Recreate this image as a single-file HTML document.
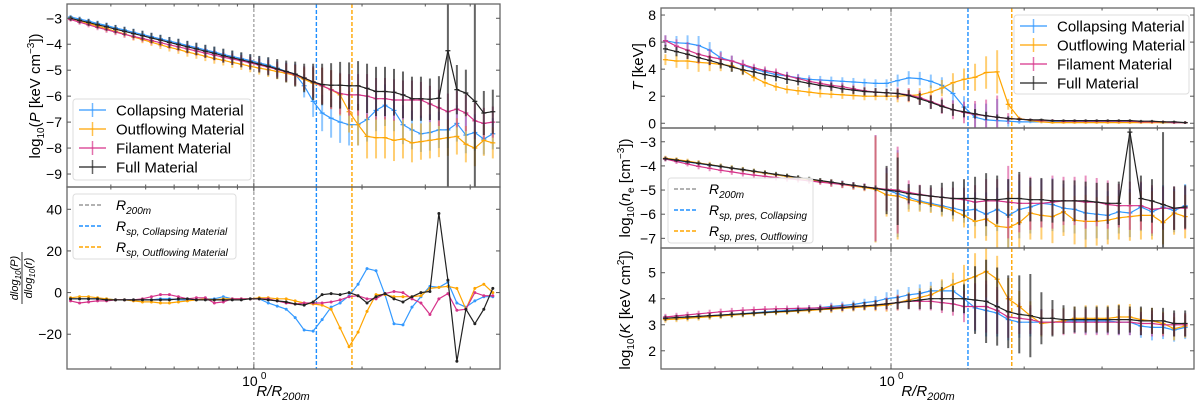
<!DOCTYPE html>
<html><head><meta charset="utf-8"><style>
html,body{margin:0;padding:0;background:#fff}
svg{display:block;font-family:"Liberation Sans","DejaVu Sans",sans-serif}
</style></head><body>
<svg id="fig" width="1200" height="402" viewBox="0 0 1200 402" xmlns="http://www.w3.org/2000/svg">
<rect width="1200" height="402" fill="#fff"/>
<g id="layer"></g>
<text transform="translate(40,96) rotate(-90)" text-anchor="middle" font-size="15">log<tspan font-size="10" dy="4">10</tspan><tspan dy="-4">(</tspan><tspan font-style="italic">P</tspan> [keV cm<tspan font-size="10" dy="-6">−3</tspan><tspan dy="6">])</tspan></text>
<g transform="translate(22,278) rotate(-90)" font-size="11" font-style="italic" text-anchor="middle">
<text y="-4">dlog<tspan font-size="8" dy="3">10</tspan><tspan dy="-3">(P)</tspan></text>
<line x1="-26" x2="26" y1="0" y2="0" stroke="#000" stroke-width="0.8"/>
<text y="10">dlog<tspan font-size="8" dy="3">10</tspan><tspan dy="-3">(r)</tspan></text>
</g>
<text x="283" y="396" text-anchor="middle" font-size="15" font-style="italic">R/R<tspan font-size="11" dy="4">200m</tspan></text>
<text x="928" y="396" text-anchor="middle" font-size="15" font-style="italic">R/R<tspan font-size="11" dy="4">200m</tspan></text>
<text transform="translate(643,67) rotate(-90)" text-anchor="middle" font-size="15"><tspan font-style="italic">T</tspan> [keV]</text>
<text transform="translate(630,188) rotate(-90)" text-anchor="middle" font-size="15">log<tspan font-size="10" dy="4">10</tspan><tspan dy="-4">(</tspan><tspan font-style="italic">n</tspan><tspan font-size="10" dy="4">e</tspan><tspan dy="-4"> [cm</tspan><tspan font-size="10" dy="-6">−3</tspan><tspan dy="6">])</tspan></text>
<text transform="translate(630,310) rotate(-90)" text-anchor="middle" font-size="15">log<tspan font-size="10" dy="4">10</tspan><tspan dy="-4">(</tspan><tspan font-style="italic">K</tspan> [keV cm<tspan font-size="10" dy="-6">2</tspan><tspan dy="6">])</tspan></text>
</svg>
<script>
const logR=[-0.51,-0.485,-0.46,-0.435,-0.41,-0.385,-0.36,-0.335,-0.31,-0.285,-0.26,-0.235,-0.21,-0.185,-0.16,-0.135,-0.11,-0.085,-0.06,-0.035,-0.01,0.015,0.04,0.065,0.09,0.115,0.14,0.165,0.19,0.215,0.24,0.265,0.29,0.315,0.34,0.365,0.39,0.415,0.44,0.465,0.49,0.515,0.54,0.565,0.59,0.615,0.64,0.665];
const vlineR200=0, vlineColl=0.174, vlineOut=0.273;
const seriesNames=["Collapsing Material","Outflowing Material","Filament Material","Full Material"];
const pColl=[-2.95,-3.03,-3.11,-3.2,-3.28,-3.37,-3.45,-3.54,-3.62,-3.71,-3.79,-3.88,-3.96,-4.05,-4.13,-4.22,-4.3,-4.39,-4.47,-4.55,-4.63,-4.72,-4.8,-4.92,-5.05,-5.15,-5.6,-6.2,-6.65,-6.85,-7.0,-7.1,-7.1,-6.9,-6.55,-6.35,-6.55,-7.1,-7.3,-7.45,-7.4,-7.3,-7.3,-7.05,-7.5,-7.4,-7.65,-7.45];
const pOut=[-3.0,-3.1,-3.2,-3.3,-3.4,-3.5,-3.6,-3.72,-3.82,-3.92,-4.02,-4.12,-4.2,-4.3,-4.38,-4.46,-4.55,-4.62,-4.7,-4.77,-4.85,-4.92,-4.98,-5.05,-5.12,-5.2,-5.35,-5.5,-5.6,-5.75,-5.95,-6.6,-7.1,-7.55,-7.6,-7.6,-7.7,-7.65,-7.8,-7.75,-7.7,-7.65,-7.6,-7.55,-7.85,-8.0,-7.7,-7.8];
const pFil=[-3.05,-3.15,-3.25,-3.35,-3.44,-3.53,-3.62,-3.7,-3.78,-3.86,-3.94,-4.02,-4.1,-4.18,-4.26,-4.34,-4.42,-4.5,-4.57,-4.64,-4.72,-4.8,-4.88,-4.97,-5.07,-5.18,-5.3,-5.45,-5.6,-5.75,-5.9,-5.95,-5.95,-6.0,-6.1,-6.1,-6.15,-6.15,-6.15,-6.15,-6.3,-6.45,-6.6,-6.5,-6.65,-6.95,-7.05,-7.0];
const pFull=[-3.0,-3.08,-3.16,-3.25,-3.33,-3.42,-3.5,-3.59,-3.67,-3.76,-3.84,-3.93,-4.01,-4.1,-4.18,-4.27,-4.35,-4.44,-4.52,-4.6,-4.68,-4.77,-4.85,-4.95,-5.05,-5.15,-5.3,-5.45,-5.55,-5.58,-5.58,-5.6,-5.6,-5.7,-5.82,-5.82,-5.85,-5.95,-6.1,-6.1,-6.12,-6.08,-4.25,-5.75,-5.88,-6.2,-6.65,-6.6];
const errPColor=[0.08,0.1,0.1,0.11,0.12,0.12,0.13,0.14,0.14,0.15,0.16,0.16,0.17,0.18,0.18,0.19,0.2,0.2,0.21,0.22,0.23,0.25,0.28,0.3,0.35,0.4,0.45,0.6,0.7,0.75,0.8,0.8,0.8,0.85,0.8,0.8,0.8,0.75,0.75,0.7,0.7,0.7,0.7,0.7,0.7,0.7,0.6,0.6];
const errPFull=[0.1,0.12,0.13,0.14,0.15,0.16,0.17,0.18,0.19,0.2,0.2,0.21,0.22,0.23,0.24,0.25,0.26,0.27,0.28,0.29,0.3,0.32,0.35,0.38,0.42,0.48,0.55,0.7,0.8,0.85,0.9,0.9,0.95,0.95,0.95,0.95,0.9,0.9,0.85,0.85,0.8,0.85,8,0.95,0.9,8,0.85,0.85];
const pTicks=[-3,-4,-5,-6,-7,-8,-9];
const dColl=[-3,-3,-3,-3,-3,-3.5,-3.5,-3.5,-3.5,-3.5,-3,-3,-3.5,-3.5,-3.5,-3,-3,-2,-3,-3,-3,-3,-5,-6.5,-8,-12,-18,-18.5,-13,-7,-5,-1.5,4,11.5,10.5,-1,-15,-15.5,-7,-2,3,2.5,5,-5,-7,-4,-2,-2];
const dOut=[-2.5,-2,-2,-2.5,-3,-3.5,-3.5,-4,-4.5,-4.5,-5,-5,-4.5,-4,-3.5,-3,-3.5,-3,-3,-3,-3,-2.5,-2.5,-3,-3,-4,-5,-5.5,-6,-8,-17,-26,-19,-9,-1,-1,-2,-2,-2,-1.5,2,2.5,3,2,-8,2,4,0];
const dFil=[-4,-5,-4.5,-4,-4,-3.5,-3.5,-3.5,-3,-2,-1,-1,-2,-3,-2.5,-2.5,-5,-4.5,-3,-3,-3,-3,-3,-4,-5,-5.5,-5,-5,-5,-4.5,-3.5,-2,-1.5,-3,-3,-0.5,0.5,0,-3,-5,-10.5,-3,-0.5,-8.5,-8,0,-1.5,-1.5];
const dFull=[-3,-3,-3,-3,-3.5,-3.5,-3.5,-3.5,-3.5,-3.5,-3.5,-3.5,-3,-3,-3.5,-3.5,-3.5,-3.5,-3.5,-3.5,-3,-3,-3.5,-4,-4.5,-5.5,-6,-4.5,-1,-0.5,-1,0,-1.5,-5,-2,-0.5,-3,-4.5,-2,0,0.5,38,6,-33,-8,-15,-8,2];
const dTicks=[40,20,0,-20];
const tColl=[6.1,5.95,5.9,5.75,5.4,4.85,4.6,4.3,4.0,3.8,3.6,3.5,3.35,3.25,3.2,3.15,3.1,3.05,3.0,2.95,2.95,3.15,3.35,3.3,3.1,2.8,2.2,1.2,0.45,0.25,0.2,0.15,0.1,0.1,0.1,0.1,0.1,0.1,0.1,0.1,0.1,0.1,0.1,0.1,0.1,0.05,0.05,0.05];
const tOut=[4.7,4.6,4.6,4.5,4.45,4.35,4.25,3.9,3.4,3.0,2.7,2.5,2.4,2.3,2.2,2.15,2.1,2.05,2.0,2.0,2.0,2.0,2.05,2.1,2.3,2.6,3.0,3.25,3.4,3.75,3.8,1.4,0.35,0.2,0.1,0.05,0.05,0.05,0.05,0.05,0.05,0.05,0.05,0.05,0.05,0.05,0.05,0.05];
const tFil=[6.1,5.7,5.4,5.1,4.9,4.75,4.6,4.35,4.1,3.9,3.75,3.5,3.3,3.1,2.95,2.8,2.7,2.55,2.4,2.3,2.25,2.2,2.1,1.9,1.6,1.3,1.0,0.8,0.65,0.55,0.45,0.35,0.3,0.25,0.2,0.2,0.15,0.15,0.15,0.15,0.15,0.15,0.15,0.1,0.1,0.1,0.05,0.05];
const tFull=[5.5,5.3,5.1,4.85,4.65,4.4,4.15,3.95,3.8,3.6,3.45,3.25,3.1,2.95,2.8,2.7,2.55,2.45,2.35,2.3,2.25,2.2,2.05,1.8,1.55,1.25,1.0,0.85,0.7,0.55,0.45,0.35,0.3,0.25,0.25,0.2,0.2,0.2,0.2,0.2,0.2,0.2,0.2,0.15,0.15,0.1,0.1,0.05];
const errTColor=[0.4,0.5,0.6,0.7,0.6,0.5,0.4,0.35,0.3,0.3,0.3,0.3,0.3,0.3,0.3,0.3,0.3,0.3,0.3,0.3,0.3,0.45,0.5,0.5,0.5,0.6,0.7,0.8,1.0,1.2,1.6,0.4,0.15,0.1,0.1,0.1,0.1,0.1,0.1,0.1,0.1,0.1,0.1,0.1,0.1,0.1,0.1,0.1];
const errTFull=[0.3,0.35,0.35,0.35,0.35,0.35,0.35,0.35,0.35,0.35,0.35,0.35,0.3,0.3,0.3,0.3,0.3,0.3,0.3,0.3,0.3,0.35,0.4,0.45,0.5,0.5,0.45,0.4,0.35,0.3,0.2,0.15,0.1,0.1,0.1,0.1,0.1,0.1,0.1,0.1,0.1,0.1,0.1,0.1,0.1,0.1,0.1,0.1];
const tTicks=[8,6,4,2,0];
const nColl=[-3.7,-3.77,-3.84,-3.9,-3.97,-4.03,-4.1,-4.17,-4.23,-4.3,-4.36,-4.43,-4.5,-4.56,-4.62,-4.69,-4.75,-4.82,-4.88,-4.94,-5.0,-5.15,-5.3,-5.45,-5.55,-5.65,-5.75,-5.85,-5.8,-6.0,-5.8,-6.05,-5.8,-5.7,-5.55,-5.6,-5.75,-5.8,-5.95,-6.0,-6.05,-5.9,-5.95,-5.7,-5.9,-5.7,-5.85,-5.65];
const nOut=[-3.68,-3.74,-3.8,-3.88,-3.95,-4.02,-4.09,-4.16,-4.23,-4.3,-4.37,-4.44,-4.51,-4.57,-4.63,-4.7,-4.77,-4.84,-4.9,-4.97,-5.2,-5.25,-5.4,-5.5,-5.6,-5.7,-5.85,-6.05,-6.3,-6.2,-6.5,-6.55,-6.35,-5.95,-6.05,-6.1,-5.9,-6.25,-6.3,-6.3,-6.25,-6.15,-6.1,-6.05,-6.05,-6.35,-5.95,-6.1];
const nFil=[-3.72,-3.82,-3.92,-4.02,-4.1,-4.18,-4.25,-4.32,-4.38,-4.43,-4.48,-4.53,-4.57,-4.62,-4.67,-4.72,-4.77,-4.82,-4.87,-4.92,-4.97,-5.0,-5.1,-5.18,-5.25,-5.3,-5.35,-5.4,-5.5,-5.45,-5.45,-5.5,-5.55,-5.55,-5.55,-5.5,-5.45,-5.45,-5.5,-5.5,-5.6,-5.65,-5.65,-5.65,-5.8,-5.75,-5.75,-5.75];
const nFull=[-3.7,-3.76,-3.83,-3.89,-3.96,-4.02,-4.09,-4.15,-4.22,-4.28,-4.35,-4.41,-4.48,-4.54,-4.61,-4.67,-4.74,-4.8,-4.87,-4.93,-5.0,-5.05,-5.15,-5.2,-5.25,-5.3,-5.35,-5.35,-5.35,-5.4,-5.4,-5.35,-5.35,-5.4,-5.4,-5.45,-5.45,-5.45,-5.45,-5.5,-5.55,-5.55,-2.6,-5.35,-5.45,-5.6,-5.75,-5.7];
const errNColor=[0.1,0.1,0.1,0.12,0.12,0.12,0.12,0.12,0.12,0.12,0.12,0.12,0.12,0.12,0.12,0.15,0.15,0.15,0.15,2.2,0.9,1.8,0.5,0.4,0.35,0.4,0.45,0.5,0.7,0.9,0.9,1.5,1.2,1.1,1.0,1.1,1.0,1.0,1.1,1.0,1.0,0.9,1.0,1.0,1.0,0.9,0.9,0.9];
const errNFull=[0.08,0.08,0.08,0.08,0.08,0.08,0.08,0.08,0.08,0.08,0.08,0.08,0.08,0.08,0.1,0.1,0.1,0.12,0.12,0.12,1.0,1.4,0.4,0.4,0.45,0.6,0.7,0.8,0.9,1.1,1.0,0.8,1.1,0.9,0.9,0.9,0.85,0.85,0.8,0.8,0.85,0.9,3,0.95,0.9,3,0.9,0.9];
const nTicks=[-3,-4,-5,-6,-7];
const kColl=[3.25,3.27,3.3,3.32,3.35,3.37,3.4,3.43,3.46,3.49,3.52,3.55,3.58,3.62,3.66,3.7,3.74,3.78,3.85,3.9,4.0,4.05,4.15,4.2,4.3,4.3,4.3,4.0,3.65,3.55,3.45,3.2,3.1,3.1,3.1,3.1,3.15,3.15,3.15,3.15,3.15,3.1,3.1,2.95,2.9,2.9,2.8,2.9];
const kOut=[3.2,3.22,3.25,3.28,3.31,3.34,3.37,3.4,3.43,3.46,3.48,3.5,3.53,3.55,3.58,3.6,3.63,3.66,3.69,3.72,3.75,3.85,3.95,4.05,4.15,4.35,4.55,4.7,4.85,5.05,4.75,4.0,3.7,3.35,3.05,3.1,3.15,3.25,3.25,3.25,3.25,3.3,3.3,3.2,3.15,3.05,2.85,2.95];
const kFil=[3.3,3.34,3.38,3.42,3.46,3.5,3.53,3.56,3.58,3.6,3.61,3.62,3.63,3.64,3.65,3.66,3.68,3.7,3.73,3.76,3.8,3.85,3.9,3.9,3.9,3.85,3.8,3.7,3.7,3.7,3.55,3.3,3.25,3.2,3.1,3.1,3.1,3.1,3.1,3.1,3.1,3.1,3.1,3.05,3.05,3.0,3.0,3.0];
const kFull=[3.25,3.28,3.3,3.32,3.35,3.37,3.4,3.42,3.45,3.47,3.5,3.52,3.55,3.58,3.6,3.63,3.66,3.7,3.73,3.76,3.8,3.85,3.9,3.95,4.0,4.0,4.0,4.0,3.95,3.9,3.7,3.5,3.4,3.35,3.25,3.25,3.2,3.2,3.2,3.2,3.2,3.2,3.2,3.15,3.15,3.15,3.05,3.05];
const errKColor=[0.12,0.12,0.12,0.12,0.12,0.12,0.12,0.12,0.12,0.12,0.12,0.12,0.12,0.12,0.12,0.15,0.15,0.15,0.15,0.2,0.25,0.3,0.3,0.35,0.35,0.4,0.45,0.6,0.9,1.0,0.9,0.8,0.6,0.55,0.5,0.5,0.5,0.45,0.5,0.5,0.5,0.5,0.5,0.45,0.5,0.45,0.45,0.45];
const errKFull=[0.1,0.1,0.1,0.1,0.1,0.1,0.1,0.1,0.1,0.1,0.1,0.1,0.1,0.1,0.12,0.12,0.12,0.15,0.15,0.18,0.2,0.25,0.3,0.35,0.4,0.45,0.5,0.55,1.3,1.6,1.5,1.4,1.5,1.6,1.0,0.7,0.55,0.5,0.5,0.5,0.5,0.55,0.5,0.55,0.5,0.5,0.5,0.5];
const kTicks=[5,4,3,2];

const COLORS=["#3399ff","#ffa500","#d6338a","#222222"];
const NS="http://www.w3.org/2000/svg";
const layer=document.getElementById("layer");
const XMIN=-0.52, XMAX=0.685;
function mk(tag,attrs,parent){const e=document.createElementNS(NS,tag);for(const k in attrs)e.setAttribute(k,attrs[k]);(parent||layer).appendChild(e);return e;}

function drawPanel(P){
  const g=mk("g",{});
  
  
  const xs=v=>P.x0+(v-XMIN)/(XMAX-XMIN)*(P.x1-P.x0);
  const ys=v=>P.y1-(v-P.ymin)/(P.ymax-P.ymin)*(P.y1-P.y0);
  const clip="clip-"+P.name;
  const cp=mk("clipPath",{id:clip},g);mk("rect",{x:P.x0,y:P.y0,width:P.x1-P.x0,height:P.y1-P.y0},cp);
  const plot=mk("g",{"clip-path":"url(#"+clip+")"},g);
  const vl=[[vlineR200,"#999",1.2,"3,2"],[vlineColl,"#1e8fff",1.4,"4,2"],[vlineOut,"#ffa500",1.4,"4,2"]];
  for(const [v,c,w,d] of vl){
    const l=mk("line",{x1:xs(v),x2:xs(v),y1:P.y0,y2:P.y1,stroke:c,"stroke-width":w,"stroke-dasharray":d},plot);
    
    
  }
  P.series.forEach((s,si)=>{
    const c=COLORS[si];
    const sg=mk("g",{},plot);
    
    
    const n=Math.min(logR.length,s.v.length);
    if(s.e){
      for(let i=0;i<n;i++){
        const x=xs(logR[i]);
        const b=mk("line",{x1:x,x2:x,y1:ys(s.v[i]+s.e[i]),y2:ys(s.v[i]-s.e[i]),stroke:c,"stroke-width":2,"stroke-opacity":si==3?0.7:0.55},sg);
        
        
      }
    }
    let d="";
    for(let i=0;i<n;i++)d+=(i?"L":"M")+xs(logR[i]).toFixed(1)+","+ys(s.v[i]).toFixed(1);
    const ln=mk("path",{d:d,fill:"none",stroke:c,"stroke-width":1.2},sg);
    
    
    for(let i=0;i<n;i++){
      const x=xs(logR[i]),y=ys(s.v[i]);
      const m=P.dots?mk("circle",{cx:x,cy:y,r:1.5,fill:c},sg):mk("line",{x1:x-2.5,x2:x+2.5,y1:y,y2:y,stroke:c,"stroke-width":1.2},sg);
      
      
    }
  });
  const fr=mk("rect",{x:P.x0,y:P.y0,width:P.x1-P.x0,height:P.y1-P.y0,fill:"none",stroke:"#666","stroke-width":1.3},g);
  
  
  for(const t of P.ticks){
    const y=ys(t);
    mk("line",{x1:P.x0,x2:P.x0+4,y1:y,y2:y,stroke:"#555"},g);
    mk("line",{x1:P.x1,x2:P.x1-4,y1:y,y2:y,stroke:"#555"},g);
    const tx=mk("text",{x:P.x0-5,y:y+5,"text-anchor":"end","font-size":14},g);
    tx.textContent=(t<0?"−":"")+Math.abs(t);
    
    
  }
  const minor=[0.4,0.5,0.6,0.7,0.8,0.9,2,3,4];
  for(const m of minor){const x=xs(Math.log10(m));
    mk("line",{x1:x,x2:x,y1:P.y1,y2:P.y1-2.5,stroke:"#555"},g);mk("line",{x1:x,x2:x,y1:P.y0,y2:P.y0+2.5,stroke:"#555"},g);}
  const x0=xs(0);
  mk("line",{x1:x0,x2:x0,y1:P.y1,y2:P.y1-4.5,stroke:"#555"},g);mk("line",{x1:x0,x2:x0,y1:P.y0,y2:P.y0+4.5,stroke:"#555"},g);
  if(P.xlabel){
    const tl=mk("text",{x:x0-4,y:P.y1+17,"text-anchor":"middle","font-size":14},g);
    tl.textContent="10";
    
    
    const sp=mk("text",{x:x0+7,y:P.y1+10,"font-size":10},g);sp.textContent="0";
  }
}
drawPanel({name:"pressure-panel",x0:67,x1:500,y0:4,y1:187,ymin:-9.5,ymax:-2.45,ticks:pTicks,series:[{v:pColl,e:errPColor},{v:pOut,e:errPColor},{v:pFil,e:errPColor},{v:pFull,e:errPFull}]});
drawPanel({name:"pressure-slope-panel",x0:67,x1:500,y0:187,y1:369,ymin:-36.7,ymax:50.7,ticks:dTicks,dots:true,xlabel:true,series:[{v:dColl},{v:dOut},{v:dFil},{v:dFull}]});
drawPanel({name:"temperature-panel",x0:661,x1:1194,y0:8,y1:128,ymin:-0.35,ymax:8.52,ticks:tTicks,series:[{v:tColl,e:errTColor},{v:tOut,e:errTColor},{v:tFil,e:errTColor},{v:tFull,e:errTFull}]});
drawPanel({name:"density-panel",x0:661,x1:1194,y0:128,y1:248,ymin:-7.4,ymax:-2.43,ticks:nTicks,series:[{v:nColl,e:errNColor},{v:nOut,e:errNColor},{v:nFil,e:errNColor},{v:nFull,e:errNFull}]});
drawPanel({name:"entropy-panel",x0:661,x1:1194,y0:248,y1:369,ymin:1.3,ymax:5.95,ticks:kTicks,xlabel:true,series:[{v:kColl,e:errKColor},{v:kOut,e:errKColor},{v:kFil,e:errKColor},{v:kFull,e:errKFull}]});

function legendSeries(name,x,y,w,h,tx){
  const g=mk("g",{});
  
  
  mk("rect",{x:x,y:y,width:w,height:h,rx:3,fill:"#fff","fill-opacity":0.85,stroke:"#ddd"},g);
  seriesNames.forEach((s,i)=>{
    const yy=y+11+i*19;
    const e=mk("g",{},g);
    
    
    mk("line",{x1:x+6,x2:x+33,y1:yy,y2:yy,stroke:COLORS[i],"stroke-width":1.3},e);
    mk("line",{x1:x+19.5,x2:x+19.5,y1:yy-7,y2:yy+7,stroke:COLORS[i],"stroke-width":1.5,"stroke-opacity":0.7},e);
    const t=mk("text",{x:tx,y:yy+5.5,"font-size":15},e);t.textContent=s;
  });
}
legendSeries("legend-series-left",73,99,178,81,116);
legendSeries("legend-series-right",1014,15,175,79,1057);

function legendRadii(name,x,y,w,h,tx,labels){
  const g=mk("g",{});
  
  
  mk("rect",{x:x,y:y,width:w,height:h,rx:3,fill:"#fff","fill-opacity":0.85,stroke:"#ddd"},g);
  const cs=["#999","#1e8fff","#ffa500"];
  labels.forEach((lb,i)=>{
    const yy=y+11+i*21;
    const e=mk("g",{},g);
    
    
    mk("line",{x1:x+6,x2:x+30,y1:yy,y2:yy,stroke:cs[i],"stroke-width":1.4,"stroke-dasharray":"4,2"},e);
    const t=mk("text",{x:tx,y:yy+5,"font-size":14,"font-style":"italic"},e);
    t.textContent="R";
    const s=mk("tspan",{"font-size":10,dy:4},t);s.textContent=lb;
  });
}
legendRadii("legend-radii-left",73,194,163,65,116,["200m","sp, Collapsing Material","sp, Outflowing Material"]);
legendRadii("legend-radii-right",668,178,145,65,709,["200m","sp, pres, Collapsing","sp, pres, Outflowing"]);
</script>
</body></html>
